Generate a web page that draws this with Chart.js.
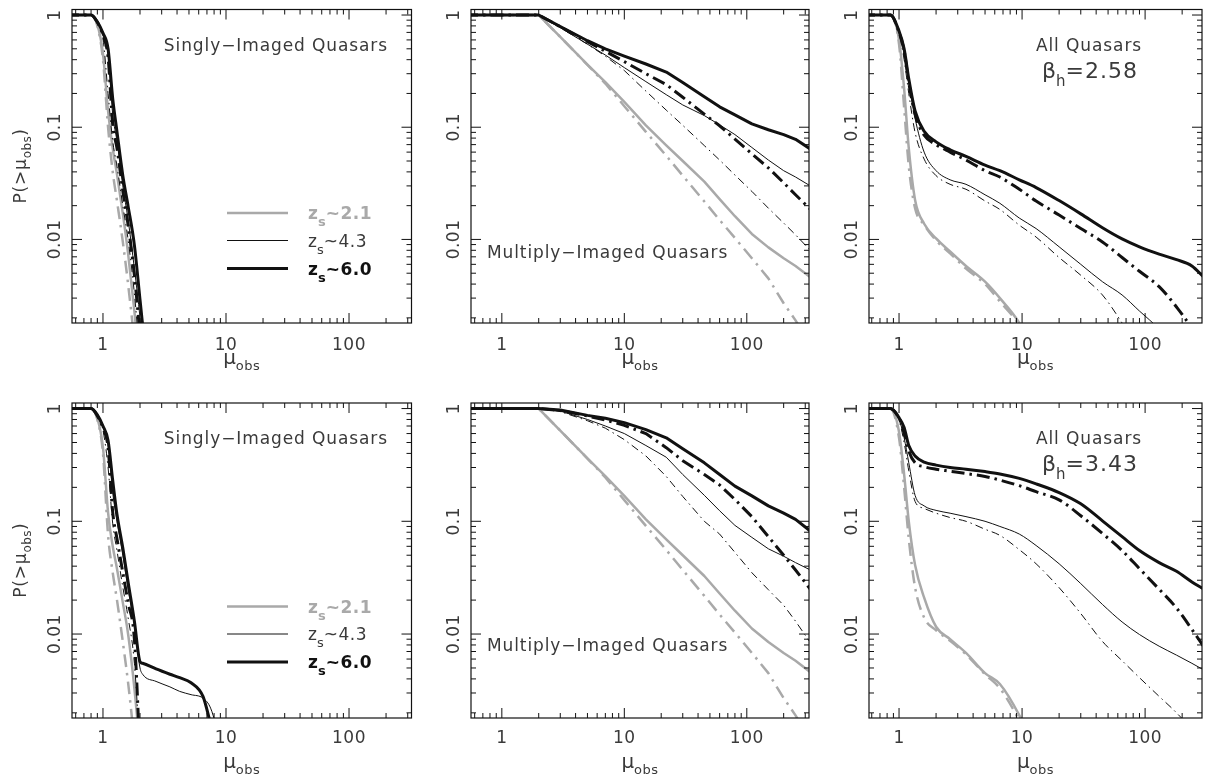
<!DOCTYPE html>
<html>
<head>
<meta charset="utf-8">
<script src="https://cdn.jsdelivr.net/npm/chart.js@4.4.0/dist/chart.umd.min.js"></script>
<style>
  html, body { margin: 0; padding: 0; background: #fff; }
  #wrap { position: relative; width: 1206px; height: 775px; }
  #wrap canvas { position: absolute; left: 0; top: 0; }
</style>
</head>
<body>
<div id="wrap">
  <canvas id="p1" width="1206" height="775"></canvas>
  <canvas id="p2" width="1206" height="775"></canvas>
  <canvas id="p3" width="1206" height="775"></canvas>
  <canvas id="p4" width="1206" height="775"></canvas>
  <canvas id="p5" width="1206" height="775"></canvas>
  <canvas id="p6" width="1206" height="775"></canvas>
</div>
<script>
// ---- axes / labels ----
const X_TICKS = [1, 10, 100];
const X_TICK_LABELS = ['1', '10', '100'];
const Y_TICKS = [1, 0.1, 0.01];
const Y_TICK_LABELS = ['1', '0.1', '0.01'];
const Y_RANGE = [0.0018, 1.12];
const Z_LABELS = ['2.1', '4.3', '6.0'];
const BETA_LABELS = ['2.58', '3.43'];

// ---- singly-imaged, beta_h = 2.58 (top left) ----
const muSinglyA = [0.5, 0.8, 0.9, 1.0, 1.1, 1.2, 1.3, 1.45, 1.6, 1.8, 2.0, 2.2];
const sA_z21   = [1, 1, 0.82, 0.45, 0.14, 0.065, 0.038, 0.017, 0.0075, 0.0023, 0.0007, 0.0002];
const sA_z21dd = [1, 1, 0.8, 0.4, 0.1, 0.04, 0.022, 0.0095, 0.004, 0.0012, 0.0003, 0.0001];
const sA_z43   = [1, 1, 0.86, 0.66, 0.45, 0.13, 0.075, 0.03, 0.015, 0.0055, 0.002, 0.0006];
const sA_z43dd = [1, 1, 0.85, 0.62, 0.2, 0.075, 0.045, 0.02, 0.01, 0.0033, 0.0009, 0.0003];
const sA_z60   = [1, 1, 0.87, 0.69, 0.5, 0.18, 0.091, 0.037, 0.0198, 0.0089, 0.0029, 0.00105];
const sA_z60dd = [1, 1, 0.86, 0.66, 0.42, 0.105, 0.065, 0.027, 0.0135, 0.0048, 0.0014, 0.0004];

// ---- singly-imaged, beta_h = 3.43 (bottom left) ----
const muSinglyB = [0.5, 0.8, 0.9, 1.0, 1.1, 1.2, 1.3, 1.45, 1.6, 1.8, 2.0, 2.1, 2.7, 3.5, 4.2, 5.2, 6.5, 7.5, 9];
const sB_z21   = [1, 1, 0.82, 0.45, 0.12, 0.06, 0.038, 0.019, 0.01, 0.0033, 0.0009, 0.0004, 0.0001, 0.0001, 0.0001, 0.0001, 0.0001, 0.0001, 0.0001];
const sB_z21dd = [1, 1, 0.8, 0.4, 0.075, 0.035, 0.02, 0.0085, 0.0037, 0.0011, 0.0003, 0.0001, 0.0001, 0.0001, 0.0001, 0.0001, 0.0001, 0.0001, 0.0001];
const sB_z43   = [1, 1, 0.87, 0.68, 0.48, 0.18, 0.1, 0.05, 0.025, 0.012, 0.005, 0.0044, 0.0038, 0.0034, 0.0031, 0.0029, 0.0027, 0.0022, 0.0011];
const sB_z43dd = [1, 1, 0.85, 0.64, 0.3, 0.095, 0.055, 0.026, 0.014, 0.0055, 0.0008, 0.0002, 0.0001, 0.0001, 0.0001, 0.0001, 0.0001, 0.0001, 0.0001];
const sB_z60   = [1, 1, 0.88, 0.7, 0.52, 0.23, 0.115, 0.058, 0.029, 0.013, 0.0057, 0.0055, 0.0049, 0.0044, 0.0041, 0.0037, 0.0028, 0.0016, 0.0008];
const sB_z60dd = [1, 1, 0.86, 0.67, 0.45, 0.12, 0.07, 0.035, 0.019, 0.009, 0.0008, 0.0002, 0.0001, 0.0001, 0.0001, 0.0001, 0.0001, 0.0001, 0.0001];

// ---- multiply-imaged (middle column) ----
const muMulti = [0.5, 2, 3, 5, 7, 10, 15, 22, 30, 45, 60, 80, 110, 150, 200, 250, 330];
const mA_z21   = [1, 1, 0.638, 0.362, 0.252, 0.168, 0.104, 0.069, 0.05, 0.0327, 0.0229, 0.0161, 0.0112, 0.0085, 0.0068, 0.0058, 0.0046];
const mA_z21dd = [1, 1, 0.638, 0.36, 0.245, 0.154, 0.091, 0.0557, 0.037, 0.0218, 0.0149, 0.0103, 0.0068, 0.0045, 0.0027, 0.0019, 0.00115];
const mA_z43   = [1, 1, 0.77, 0.55, 0.44, 0.34, 0.255, 0.195, 0.158, 0.127, 0.105, 0.086, 0.066, 0.051, 0.041, 0.036, 0.030];
const mA_z43dd = [1, 1, 0.77, 0.55, 0.43, 0.32, 0.21, 0.142, 0.104, 0.0686, 0.051, 0.0375, 0.0268, 0.019, 0.014, 0.011, 0.008];
const mA_z60   = [1, 1, 0.79, 0.59, 0.5, 0.43, 0.366, 0.31, 0.25, 0.187, 0.152, 0.129, 0.107, 0.095, 0.086, 0.078, 0.064];
const mA_z60dd = [1, 1, 0.786, 0.58, 0.475, 0.384, 0.30, 0.24, 0.185, 0.131, 0.103, 0.0785, 0.058, 0.0434, 0.032, 0.025, 0.0186];

const mB_z21   = [1, 1, 0.638, 0.362, 0.252, 0.168, 0.104, 0.069, 0.05, 0.0327, 0.0229, 0.0161, 0.0112, 0.0085, 0.0068, 0.0058, 0.0046];
const mB_z21dd = [1, 1, 0.638, 0.36, 0.245, 0.154, 0.091, 0.0557, 0.037, 0.0218, 0.0149, 0.0103, 0.0068, 0.0045, 0.0027, 0.0019, 0.00115];
const mB_z43   = [1, 1, 0.95, 0.8, 0.7, 0.6, 0.47, 0.37, 0.26, 0.17, 0.124, 0.092, 0.072, 0.057, 0.049, 0.043, 0.037];
const mB_z43dd = [1, 1, 0.94, 0.78, 0.67, 0.53, 0.38, 0.25, 0.166, 0.1, 0.077, 0.053, 0.035, 0.0247, 0.018, 0.013, 0.0084];
const mB_z60   = [1, 1, 0.97, 0.87, 0.82, 0.75, 0.65, 0.55, 0.44, 0.33, 0.26, 0.205, 0.168, 0.137, 0.118, 0.104, 0.082];
const mB_z60dd = [1, 1, 0.96, 0.86, 0.79, 0.71, 0.6, 0.45, 0.345, 0.26, 0.21, 0.156, 0.11, 0.073, 0.05, 0.037, 0.025];

// ---- all quasars (right column) ----
const muAll = [0.5, 0.85, 1.0, 1.1, 1.2, 1.35, 1.6, 2.0, 2.6, 3.5, 5, 6.6, 9.5, 13, 20, 30, 45, 65, 90, 130, 180, 240, 300];
const aA_z21   = [1, 1, 0.6, 0.22, 0.065, 0.0225, 0.0138, 0.0102, 0.0078, 0.0058, 0.0042, 0.003, 0.0018, 0.0009, 0.0003, 0.0001, 0.0001, 0.0001, 0.0001, 0.0001, 0.0001, 0.0001, 0.0001];
const aA_z21dd = [1, 1, 0.55, 0.15, 0.045, 0.019, 0.0135, 0.0098, 0.0075, 0.0055, 0.004, 0.0028, 0.0017, 0.0008, 0.0003, 0.0001, 0.0001, 0.0001, 0.0001, 0.0001, 0.0001, 0.0001, 0.0001];
const aA_z43   = [1, 1, 0.7, 0.45, 0.25, 0.12, 0.06, 0.041, 0.034, 0.031, 0.025, 0.021, 0.0155, 0.0125, 0.0086, 0.006, 0.0042, 0.0032, 0.0023, 0.0016, 0.0011, 0.0008, 0.0005];
const aA_z43dd = [1, 1, 0.68, 0.4, 0.2, 0.09, 0.052, 0.037, 0.031, 0.028, 0.022, 0.0185, 0.0134, 0.0105, 0.0069, 0.0048, 0.0032, 0.0018, 0.001, 0.0005, 0.0003, 0.0002, 0.0001];
const aA_z60   = [1, 1, 0.72, 0.5, 0.27, 0.14, 0.092, 0.074, 0.063, 0.055, 0.046, 0.041, 0.034, 0.029, 0.0222, 0.0169, 0.0127, 0.0101, 0.0086, 0.0074, 0.0066, 0.0058, 0.0046];
const aA_z60dd = [1, 1, 0.7, 0.48, 0.25, 0.13, 0.085, 0.07, 0.06, 0.051, 0.041, 0.036, 0.028, 0.022, 0.0165, 0.0125, 0.0095, 0.0069, 0.0052, 0.0038, 0.0025, 0.0016, 0.001];

const aB_z21   = [1, 1, 0.62, 0.26, 0.1, 0.041, 0.021, 0.0116, 0.009, 0.0068, 0.0045, 0.0036, 0.0019, 0.0009, 0.0003, 0.0001, 0.0001, 0.0001, 0.0001, 0.0001, 0.0001, 0.0001, 0.0001];
const aB_z21dd = [1, 1, 0.55, 0.2, 0.07, 0.026, 0.014, 0.0108, 0.0087, 0.0066, 0.0044, 0.0033, 0.0017, 0.0008, 0.0003, 0.0001, 0.0001, 0.0001, 0.0001, 0.0001, 0.0001, 0.0001, 0.0001];
const aB_z43   = [1, 1, 0.8, 0.55, 0.33, 0.17, 0.137, 0.125, 0.118, 0.11, 0.1, 0.09, 0.077, 0.061, 0.042, 0.028, 0.0183, 0.0128, 0.0099, 0.0078, 0.0065, 0.0055, 0.0048];
const aB_z43dd = [1, 1, 0.78, 0.5, 0.28, 0.15, 0.13, 0.118, 0.108, 0.1, 0.085, 0.075, 0.056, 0.042, 0.0258, 0.0152, 0.0086, 0.0058, 0.0041, 0.0028, 0.002, 0.0014, 0.0009];
const aB_z60   = [1, 1, 0.83, 0.68, 0.47, 0.38, 0.335, 0.315, 0.3, 0.29, 0.276, 0.263, 0.24, 0.215, 0.18, 0.143, 0.101, 0.073, 0.055, 0.043, 0.036, 0.029, 0.025];
const aB_z60dd = [1, 1, 0.82, 0.62, 0.42, 0.33, 0.305, 0.29, 0.278, 0.265, 0.25, 0.232, 0.207, 0.183, 0.155, 0.112, 0.078, 0.055, 0.038, 0.025, 0.017, 0.011, 0.0077];

// ---- look ----
const W = 1206, H = 775;
const INK = '#111';
const TEXT = '#3a3a3a';
const GRAY = '#a9a9a9';
const FONT = '"DejaVu Sans", sans-serif';

// line styles: thick black z~6.0, thin black z~4.3, gray z~2.1; dash-dot = second model
const styles = {
    z60:   { color: INK,  width: 3,   dash: [] },
    z60dd: { color: INK,  width: 3,   dash: [13, 5, 2.5, 5] },
    z43:   { color: INK,  width: 1,   dash: [] },
    z43dd: { color: INK,  width: 1,   dash: [8, 4, 1.5, 4] },
    z21:   { color: GRAY, width: 2.5, dash: [] },
    z21dd: { color: GRAY, width: 2.5, dash: [13, 6, 2.5, 6] }
};

function buildSets(mu, series, smooth) {
    // first dataset ends up drawn on top
    return ['z60', 'z60dd', 'z43', 'z43dd', 'z21', 'z21dd'].map(function(key) {
        const s = styles[key];
        return {
            label: key,
            data: mu.map(function(m, i) { return { x: m, y: series[key][i] }; }),
            borderColor: s.color,
            borderWidth: s.width,
            borderDash: s.dash,
            borderCapStyle: 'butt',
            borderJoinStyle: 'round',
            cubicInterpolationMode: smooth ? 'monotone' : 'default',
            tension: 0,
            pointRadius: 0,
            fill: false
        };
    });
}

function logTicks(min, max) {
    const out = [];
    for (let e = Math.floor(Math.log10(min)); e <= Math.ceil(Math.log10(max)); e++) {
        for (let m = 1; m <= 9; m++) {
            const v = m * Math.pow(10, e);
            if (v >= min && v <= max) out.push({ v: v, major: m === 1 });
        }
    }
    return out;
}

function setFont(ctx, p) {
    ctx.font = (p.bold ? 'bold ' : '') + p.size + 'px ' + FONT;
    ctx.letterSpacing = (p.ls || 0) + 'px';
}

// draws a run of text pieces (for subscripts); y is the baseline
function rich(ctx, parts, x, y, align) {
    let w = 0;
    parts.forEach(function(p) { setFont(ctx, p); p.w = ctx.measureText(p.t).width; w += p.w; });
    let cx = align === 'center' ? x - w / 2 : (align === 'right' ? x - w : x);
    ctx.textAlign = 'left';
    ctx.textBaseline = 'alphabetic';
    parts.forEach(function(p) {
        setFont(ctx, p);
        ctx.fillStyle = p.color || TEXT;
        ctx.fillText(p.t, cx, y + (p.dy || 0));
        cx += p.w;
    });
    ctx.letterSpacing = '0px';
}

function decor(o) {
    return {
        id: 'decor',
        afterDatasetsDraw(chart) {
            const ctx = chart.ctx, a = chart.chartArea;
            const xs = chart.scales.x, ys = chart.scales.y;
            ctx.save();

            // frame and inward ticks on all four sides
            ctx.strokeStyle = INK;
            ctx.lineWidth = 1.2;
            ctx.strokeRect(a.left, a.top, a.right - a.left, a.bottom - a.top);
            ctx.lineWidth = 1;
            ctx.beginPath();
            logTicks(xs.min, xs.max).forEach(function(t) {
                const px = xs.getPixelForValue(t.v);
                const len = t.major ? 10 : 5;
                ctx.moveTo(px, a.bottom); ctx.lineTo(px, a.bottom - len);
                ctx.moveTo(px, a.top); ctx.lineTo(px, a.top + len);
            });
            logTicks(ys.min, ys.max).forEach(function(t) {
                const py = ys.getPixelForValue(t.v);
                const len = t.major ? 10 : 5;
                ctx.moveTo(a.left, py); ctx.lineTo(a.left + len, py);
                ctx.moveTo(a.right, py); ctx.lineTo(a.right - len, py);
            });
            ctx.stroke();

            // tick labels
            X_TICKS.forEach(function(v, i) {
                rich(ctx, [{ t: X_TICK_LABELS[i], size: 17, ls: 0.5 }], xs.getPixelForValue(v), a.bottom + o.tickDy, 'center');
            });
            Y_TICKS.forEach(function(v, i) {
                ctx.save();
                ctx.translate(a.left - 12.5, ys.getPixelForValue(v));
                ctx.rotate(-Math.PI / 2);
                rich(ctx, [{ t: Y_TICK_LABELS[i], size: 17, ls: 0.5 }], 0, 0, 'center');
                ctx.restore();
            });

            // axis titles
            const cx = (a.left + a.right) / 2;
            rich(ctx, [
                { t: 'μ', size: 20 },
                { t: 'obs', size: 13, dy: 6, ls: 0.5 }
            ], cx, a.bottom + o.titleDy, 'center');
            if (o.yTitle) {
                ctx.save();
                ctx.translate(26, (a.top + a.bottom) / 2);
                ctx.rotate(-Math.PI / 2);
                rich(ctx, [
                    { t: 'P(>μ', size: 17, ls: 0.8 },
                    { t: 'obs', size: 12, dy: 5, ls: 0.5 },
                    { t: ')', size: 17 }
                ], 0, 0, 'center');
                ctx.restore();
            }

            // panel captions
            if (o.caption === 'singly') {
                rich(ctx, [{ t: 'Singly−Imaged Quasars', size: 17, ls: 0.9 }], a.right - 23.5, a.top + 41, 'right');
            } else if (o.caption === 'multiply') {
                rich(ctx, [{ t: 'Multiply−Imaged Quasars', size: 17, ls: 0.9 }], a.left + 16, a.top + 248, 'left');
            } else if (o.caption === 'all') {
                rich(ctx, [{ t: 'All Quasars', size: 17, ls: 0.9 }], a.left + 220, a.top + 41, 'center');
                rich(ctx, [
                    { t: 'β', size: 22 },
                    { t: 'h', size: 15, dy: 8 },
                    { t: '=' + o.beta, size: 22, ls: 1 }
                ], a.left + 221, a.top + 68, 'center');
            }

            // legend (left column only)
            if (o.legend) {
                const rows = [
                    { key: 'z21', label: Z_LABELS[0], bold: true, color: GRAY, dy: 203.5 },
                    { key: 'z43', label: Z_LABELS[1], bold: false, color: TEXT, dy: 231 },
                    { key: 'z60', label: Z_LABELS[2], bold: true, color: INK, dy: 259 }
                ];
                rows.forEach(function(r) {
                    const s = styles[r.key];
                    const y = a.top + r.dy;
                    ctx.strokeStyle = s.color;
                    ctx.lineWidth = s.width;
                    ctx.setLineDash([]);
                    ctx.beginPath();
                    ctx.moveTo(a.left + 155, y);
                    ctx.lineTo(a.left + 216, y);
                    ctx.stroke();
                    rich(ctx, [
                        { t: 'z', size: 17, bold: r.bold, color: r.color },
                        { t: 's', size: 13, bold: r.bold, color: r.color, dy: 7 },
                        { t: '~' + r.label, size: 17, bold: r.bold, color: r.color, ls: 0.5 }
                    ], a.left + 236, y + 6, 'left');
                });
            }
            ctx.restore();
        }
    };
}

function panel(id, box, xRange, mu, series, o) {
    new Chart(document.getElementById(id), {
        type: 'line',
        data: { datasets: buildSets(mu, series, o.smooth) },
        options: {
            responsive: false,
            animation: false,
            events: [],
            layout: { padding: { left: box[0], right: W - box[1], top: box[2], bottom: H - box[3] } },
            plugins: { legend: { display: false }, tooltip: { enabled: false } },
            scales: {
                x: { type: 'logarithmic', min: xRange[0], max: xRange[1], display: false },
                y: { type: 'logarithmic', min: Y_RANGE[0], max: Y_RANGE[1], display: false }
            }
        },
        plugins: [decor(o)]
    });
}

// plot boxes: [left, right, top, bottom]
const COLS = [[72, 411.5], [471, 809], [869, 1202]];
const ROWS = [[9.5, 323], [403, 718]];
const X_RANGES = [[0.56, 322], [0.56, 322], [0.57, 290]];
// label offsets below each row: [tick label baseline, x title baseline]
const ROW_TEXT = [[27, 41], [25, 50]];

function box(c, r) { return [COLS[c][0], COLS[c][1], ROWS[r][0], ROWS[r][1]]; }
function rowText(r, o) { o.tickDy = ROW_TEXT[r][0]; o.titleDy = ROW_TEXT[r][1]; return o; }

panel('p1', box(0, 0), X_RANGES[0], muSinglyA,
    { z21: sA_z21, z21dd: sA_z21dd, z43: sA_z43, z43dd: sA_z43dd, z60: sA_z60, z60dd: sA_z60dd },
    rowText(0, { yTitle: true, caption: 'singly', legend: true, smooth: true }));
panel('p2', box(1, 0), X_RANGES[1], muMulti,
    { z21: mA_z21, z21dd: mA_z21dd, z43: mA_z43, z43dd: mA_z43dd, z60: mA_z60, z60dd: mA_z60dd },
    rowText(0, { caption: 'multiply', smooth: false }));
panel('p3', box(2, 0), X_RANGES[2], muAll,
    { z21: aA_z21, z21dd: aA_z21dd, z43: aA_z43, z43dd: aA_z43dd, z60: aA_z60, z60dd: aA_z60dd },
    rowText(0, { caption: 'all', beta: BETA_LABELS[0], smooth: true }));
panel('p4', box(0, 1), X_RANGES[0], muSinglyB,
    { z21: sB_z21, z21dd: sB_z21dd, z43: sB_z43, z43dd: sB_z43dd, z60: sB_z60, z60dd: sB_z60dd },
    rowText(1, { yTitle: true, caption: 'singly', legend: true, smooth: true }));
panel('p5', box(1, 1), X_RANGES[1], muMulti,
    { z21: mB_z21, z21dd: mB_z21dd, z43: mB_z43, z43dd: mB_z43dd, z60: mB_z60, z60dd: mB_z60dd },
    rowText(1, { caption: 'multiply', smooth: false }));
panel('p6', box(2, 1), X_RANGES[2], muAll,
    { z21: aB_z21, z21dd: aB_z21dd, z43: aB_z43, z43dd: aB_z43dd, z60: aB_z60, z60dd: aB_z60dd },
    rowText(1, { caption: 'all', beta: BETA_LABELS[1], smooth: true }));
</script>
</body>
</html>
